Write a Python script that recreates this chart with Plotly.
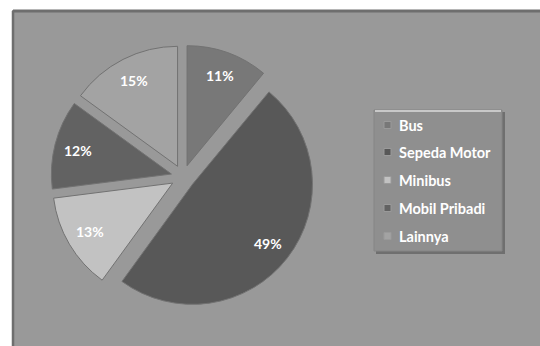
import math
import plotly.graph_objects as go

# Moda transportasi: pangsa perjalanan (%)
categories = ["Bus", "Sepeda Motor", "Minibus", "Mobil Pribadi", "Lainnya"]
shares = [11, 49, 13, 12, 15]

slice_colors = ["#787878", "#585858", "#c2c2c2", "#626262", "#a3a3a3"]

W, H = 540, 346
PULL = 0.1


def px(x):
    return x / W


def py(y):
    return 1 - y / H


# pie domain in pixels (square box centred on the pie)
dom_x = (51, 315)
dom_y = (45, 309)
cx = (dom_x[0] + dom_x[1]) / 2
cy = (dom_y[0] + dom_y[1]) / 2
radius = (dom_x[1] - dom_x[0]) / (2 + 2 * PULL)

fig = go.Figure()

fig.add_trace(go.Pie(
    labels=categories,
    values=shares,
    sort=False,
    direction="clockwise",
    rotation=0,
    pull=PULL,
    marker=dict(colors=slice_colors, line=dict(color="#727272", width=1)),
    textinfo="none",
    domain=dict(x=[px(dom_x[0]), px(dom_x[1])], y=[py(dom_y[1]), py(dom_y[0])]),
    showlegend=False,
    hoverinfo="label+percent",
))

shapes = [
    # chart frame
    dict(type="rect", xref="paper", yref="paper", x0=0, x1=1, y0=0, y1=1,
         fillcolor="white", line=dict(width=0), layer="below"),
    dict(type="rect", xref="paper", yref="paper", x0=px(12), x1=1, y0=0, y1=py(10),
         fillcolor="#999999", line=dict(width=0), layer="below"),
    dict(type="line", xref="paper", yref="paper", x0=px(13), x1=1, y0=py(11), y1=py(11),
         line=dict(color="#6e6e6e", width=3), layer="below"),
    dict(type="line", xref="paper", yref="paper", x0=px(13), x1=px(13), y0=0, y1=py(11),
         line=dict(color="#6e6e6e", width=2.5), layer="below"),
    # legend box shadow and box
    dict(type="rect", xref="paper", yref="paper", x0=px(376), x1=px(505), y0=py(254), y1=py(112),
         fillcolor="#6f6f6f", line=dict(width=0), layer="below"),
    dict(type="rect", xref="paper", yref="paper", x0=px(374), x1=px(502), y0=py(251), y1=py(110),
         fillcolor="#8f8f8f", line=dict(color="#858585", width=1), layer="below"),
    dict(type="line", xref="paper", yref="paper", x0=px(375), x1=px(501), y0=py(111), y1=py(111),
         line=dict(color="#c8c8c8", width=2), layer="below"),
]

annotations = []

# percentage labels, placed along each slice's mid-angle
total = sum(shares)
cum = 0
for v in shares:
    mid = (cum + v / 2) / total * 2 * math.pi
    cum += v
    dist = radius * (PULL + 0.8)
    lx = cx + dist * math.sin(mid)
    ly = cy - dist * math.cos(mid)
    annotations.append(dict(xref="paper", yref="paper", x=px(lx), y=py(ly),
                            xanchor="center", yanchor="middle", showarrow=False,
                            text=f"{round(v / total * 100)}%",
                            font=dict(color="white", size=14, family="Lato", weight="bold")))

# legend entries
row_y = [125, 152, 180, 208, 236]
for name, col, yy in zip(categories, slice_colors, row_y):
    shapes.append(dict(type="rect", xref="paper", yref="paper",
                       x0=px(384), x1=px(391), y0=py(yy + 3.5), y1=py(yy - 3.5),
                       fillcolor=col, line=dict(color="#9a9a9a", width=1)))
    annotations.append(dict(xref="paper", yref="paper", x=px(397), y=py(yy),
                            xanchor="left", yanchor="middle", showarrow=False,
                            text=name,
                            font=dict(color="white", size=14.5, family="Lato", weight="bold")))

fig.update_layout(
    width=W, height=H,
    margin=dict(l=0, r=0, t=0, b=0),
    paper_bgcolor="white",
    plot_bgcolor="white",
    shapes=shapes,
    annotations=annotations,
)

fig.write_html("out.html")
